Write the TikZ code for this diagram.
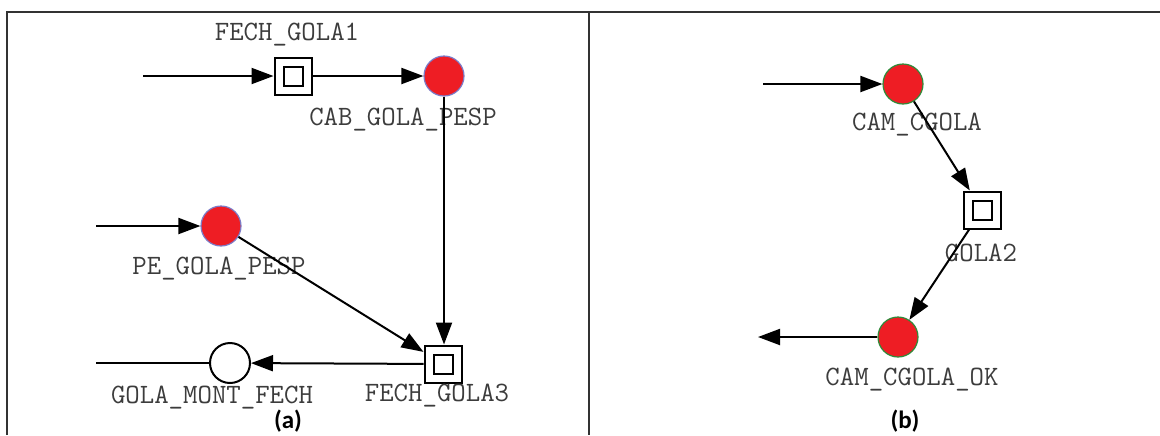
\documentclass[tikz,border=0pt]{standalone}
\usepackage{fontspec}
\newfontfamily\capfont{Carlito}
\usetikzlibrary{arrows.meta}
\definecolor{pred}{HTML}{EE1D24}
\definecolor{pblue}{HTML}{7C7CC8}
\definecolor{pgreen}{HTML}{2E8B3A}
\definecolor{lblgray}{HTML}{3C3C3C}
\tikzset{
  place/.style={circle,minimum size=20pt,inner sep=0pt,line width=0.6pt},
  redplaceA/.style={place,draw=pblue,fill=pred},
  redplaceB/.style={place,draw=pgreen,fill=pred},
  whiteplace/.style={place,draw=black,fill=white,line width=1pt},
  trans/.style={rectangle,draw=black,line width=1pt,minimum size=18.5pt,inner sep=0pt,fill=white,
    path picture={\draw[line width=1pt] ([shift={(-4.75pt,-4.75pt)}]path picture bounding box.center) rectangle ([shift={(4.75pt,4.75pt)}]path picture bounding box.center);}},
  lbl/.style={font=\ttfamily\fontsize{14pt}{14pt}\selectfont,text=lblgray,inner sep=0pt},
  captxt/.style={font=\capfont\bfseries\fontsize{12.5pt}{12.5pt}\selectfont,inner sep=0pt},
  pnarc/.style={line width=1pt,-{Triangle[length=11pt,width=8pt]}},
  plainarc/.style={line width=1pt},
  framestyle/.style={line width=0.75pt,draw=black!80}
}
\begin{document}
\begin{tikzpicture}[x=0.5pt,y=-0.5pt]
\useasboundingbox (0,0) rectangle (1160,435);
% frame
\draw[framestyle] (7,435) -- (7,12) -- (1160,12);
\draw[framestyle] (589,12) -- (589,435);

% ---- panel (a)
\node[trans] (fg1) at (293,76) {};
\node[redplaceA] (cab) at (444,76) {};
\node[redplaceA] (pe) at (221,226) {};
\node[trans] (fg3) at (443,364) {};
\node[whiteplace] (gmf) at (230,363) {};
\coordinate (in1) at (143,76);
\coordinate (in2) at (96,226);
\coordinate (out1) at (96,363);

\node[lbl] (lfg1) at (287,35) {FECH\_GOLA1};
\node[lbl] (lcab) at (403,120) {CAB\_GOLA\_PESP};
\node[lbl] (lpe) at (219,269) {PE\_GOLA\_PESP};
\node[lbl] (lgmf) at (212,398) {GOLA\_MONT\_FECH};
\node[lbl] (lfg3) at (437,396) {FECH\_GOLA3};
\node[captxt] (capa) at (288,421) {(a)};

\draw[pnarc] (in1) -- (fg1);
\draw[pnarc] (fg1) -- (cab);
\draw[pnarc] (cab) -- (cab |- fg3.north);
\draw[pnarc] (in2) -- (pe);
\draw[pnarc] (pe) -- (fg3);
\draw[pnarc] (fg3) -- (gmf);
\draw[plainarc] (gmf) -- (out1);

% ---- panel (b)
\node[redplaceB] (cam) at (903,84) {};
\node[trans] (g2) at (982,210) {};
\node[redplaceB] (camok) at (898,337) {};
\coordinate (in3) at (763,84);
\coordinate (out2) at (758,337);

\node[lbl] (lcam) at (917,125) {CAM\_CGOLA};
\node[lbl] (lg2) at (981,253) {GOLA2};
\node[lbl] (lcamok) at (912,380) {CAM\_CGOLA\_OK};
\node[captxt] (capb) at (905,421) {(b)};

\draw[pnarc] (in3) -- (cam);
\draw[pnarc] (cam) -- (g2);
\draw[pnarc] (g2) -- (camok);
\draw[pnarc] (camok) -- (out2);
\end{tikzpicture}
\end{document}
